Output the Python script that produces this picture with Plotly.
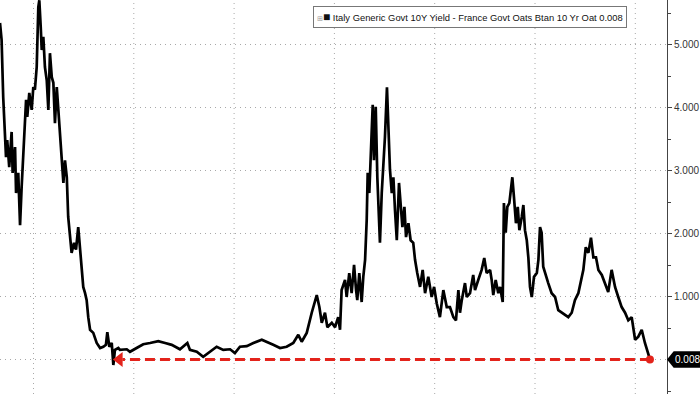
import plotly.graph_objects as go

# Decimal years and spread values (Italy 10Y - France 10Y)
years = [
    1993.33, 1993.41, 1993.49, 1993.58, 1993.63, 1993.69, 1993.79, 1993.91, 1993.96, 1994.08,
    1994.13, 1994.24, 1994.33, 1994.41, 1994.49, 1994.63, 1994.69, 1994.79, 1994.91, 1994.99,
    1995.07, 1995.16, 1995.24, 1995.29, 1995.36, 1995.41, 1995.49, 1995.57, 1995.66, 1995.74,
    1995.82, 1995.91, 1995.99, 1996.07, 1996.16, 1996.24, 1996.32, 1996.41, 1996.49, 1996.57,
    1996.66, 1996.73, 1996.82, 1996.90, 1997.02, 1997.12, 1997.23, 1997.32, 1997.40, 1997.48,
    1997.57, 1997.65, 1997.73, 1997.82, 1997.98, 1998.15, 1998.32, 1998.48, 1998.61, 1998.68,
    1998.78, 1998.90, 1998.98, 1999.06, 1999.23, 1999.31, 1999.65, 1999.81, 2000.14, 2000.47,
    2000.81, 2001.22, 2001.56, 2001.89, 2002.30, 2002.67, 2002.80, 2003.14, 2003.46, 2003.80,
    2004.13, 2004.46, 2004.80, 2005.04, 2005.29, 2005.63, 2005.96, 2006.38, 2006.63, 2006.95,
    2007.29, 2007.62, 2007.95, 2008.20, 2008.37, 2008.62, 2008.87, 2008.95, 2009.12, 2009.25,
    2009.37, 2009.53, 2009.65, 2009.87, 2010.03, 2010.19, 2010.28, 2010.36, 2010.53, 2010.61,
    2010.74, 2010.86, 2010.98, 2011.08, 2011.14, 2011.24, 2011.36, 2011.44, 2011.53, 2011.61,
    2011.66, 2011.74, 2011.81, 2011.91, 2011.97, 2012.06, 2012.14, 2012.21, 2012.27, 2012.36,
    2012.44, 2012.52, 2012.62, 2012.69, 2012.77, 2012.86, 2012.94, 2013.02, 2013.11, 2013.22,
    2013.31, 2013.39, 2013.49, 2013.57, 2013.69, 2013.80, 2013.93, 2014.02, 2014.13, 2014.27,
    2014.40, 2014.52, 2014.68, 2014.85, 2014.97, 2015.10, 2015.26, 2015.43, 2015.60, 2015.76,
    2015.93, 2016.06, 2016.18, 2016.26, 2016.35, 2016.51, 2016.60, 2016.76, 2016.92, 2017.01,
    2017.17, 2017.34, 2017.47, 2017.59, 2017.76, 2017.84, 2017.92, 2018.04, 2018.17, 2018.26,
    2018.39, 2018.45, 2018.54, 2018.62, 2018.72, 2018.79, 2018.87, 2018.95, 2019.05, 2019.14,
    2019.22, 2019.34, 2019.42, 2019.50, 2019.59, 2019.67, 2019.75, 2019.84, 2019.95, 2020.09,
    2020.17, 2020.25, 2020.33, 2020.41, 2020.55, 2020.66, 2020.83, 2021.00, 2021.16, 2021.33,
    2021.50, 2021.66, 2021.83, 2021.99, 2022.16, 2022.28, 2022.41, 2022.53, 2022.66, 2022.79,
    2022.91, 2023.04, 2023.16, 2023.33, 2023.49, 2023.65, 2023.82, 2023.99, 2024.15, 2024.32,
    2024.49, 2024.65, 2024.82, 2024.99, 2025.15, 2025.32, 2025.48, 2025.60, 2025.73,
]
spread = [
    5.35, 5.08, 4.17, 3.49, 3.22, 3.49, 3.06, 3.62, 2.97, 3.38,
    2.65, 2.97, 2.14, 2.75, 3.33, 4.13, 3.86, 4.24, 3.97, 4.33,
    4.29, 4.65, 5.60, 5.71, 5.29, 4.92, 5.13, 4.65, 4.44, 3.97,
    4.87, 4.49, 4.40, 3.76, 4.33, 3.97, 3.70, 3.22, 2.81, 3.17,
    2.90, 2.27, 2.02, 1.70, 1.86, 1.75, 2.11, 1.79, 1.48, 1.16,
    1.06, 0.95, 0.68, 0.48, 0.43, 0.27, 0.19, 0.21, 0.24, 0.44,
    0.21, 0.27, -0.08, 0.16, 0.19, 0.16, 0.17, 0.13, 0.19, 0.25,
    0.27, 0.30, 0.27, 0.24, 0.17, 0.27, 0.16, 0.13, 0.05, 0.13,
    0.21, 0.16, 0.17, 0.11, 0.21, 0.22, 0.27, 0.32, 0.29, 0.24,
    0.19, 0.21, 0.27, 0.40, 0.29, 0.43, 0.75, 0.84, 1.03, 0.84,
    0.59, 0.75, 0.52, 0.59, 0.52, 0.68, 0.48, 1.11, 1.27, 1.00,
    1.38, 1.06, 1.51, 1.11, 0.95, 1.38, 0.92, 1.32, 1.59, 2.22,
    2.97, 2.65, 3.13, 4.05, 3.17, 4.02, 2.90, 2.43, 1.86, 2.65,
    3.02, 3.54, 4.33, 3.70, 3.02, 2.65, 2.90, 2.38, 1.90, 2.81,
    2.49, 2.11, 2.43, 1.95, 2.17, 1.90, 1.86, 1.59, 1.38, 1.16,
    1.43, 1.06, 1.32, 1.00, 1.16, 0.90, 0.68, 1.11, 0.84, 0.84,
    0.68, 0.63, 1.11, 0.75, 0.95, 1.22, 1.00, 1.06, 1.35, 1.11,
    1.27, 1.43, 1.62, 1.38, 1.43, 1.27, 1.03, 1.27, 1.06, 1.16,
    0.92, 2.49, 2.02, 2.43, 2.49, 2.65, 2.90, 2.59, 2.17, 2.43,
    2.06, 2.27, 2.46, 2.06, 1.90, 1.62, 1.16, 1.00, 1.32, 1.38,
    1.59, 2.11, 2.02, 1.48, 1.32, 1.22, 1.06, 1.00, 0.79, 0.75,
    0.71, 0.68, 0.75, 0.95, 1.06, 1.22, 1.43, 1.79, 1.70, 1.94,
    1.63, 1.63, 1.43, 1.35, 1.22, 1.08, 1.43, 1.16, 1.00, 0.84,
    0.75, 0.63, 0.68, 0.32, 0.37, 0.48, 0.27, 0.16, 0.008,
]

y_tick_vals = [0, 1, 2, 3, 4, 5]
y_tick_text = ["", "1.000", "2.000", "3.000", "4.000", "5.000"]
grid_years = [1995, 2000, 2005, 2010, 2015, 2020, 2025]
arrow_left_year = 1998.98
last_label = "0.008"
legend_text = "Italy Generic Govt 10Y Yield - France Govt Oats Btan 10 Yr Oat 0.008"

RED = "#e3231b"
GRID = "#a8a8a8"
GRID_DASH = "1px,4px"
last_val = spread[-1]

fig = go.Figure()

# vertical dotted grid lines
for gy in grid_years:
    fig.add_shape(type="line", xref="x", yref="paper", x0=gy, x1=gy, y0=0, y1=1,
                  line=dict(color=GRID, width=1, dash=GRID_DASH), layer="below")

fig.add_trace(go.Scatter(x=years, y=spread, mode="lines",
                         line=dict(color="#000000", width=2.7), hoverinfo="skip",
                         showlegend=False))

# red dashed arrow
fig.add_trace(go.Scatter(x=[years[-1], arrow_left_year + 0.45], y=[last_val, last_val],
                         mode="lines", line=dict(color=RED, width=3, dash="10px,5px"),
                         showlegend=False, hoverinfo="skip"))
fig.add_trace(go.Scatter(x=[arrow_left_year + 0.30], y=[last_val], mode="markers",
                         marker=dict(symbol="triangle-left", size=13, color=RED),
                         showlegend=False, hoverinfo="skip"))
fig.add_trace(go.Scatter(x=[years[-1]], y=[last_val], mode="markers",
                         marker=dict(symbol="circle", size=8, color=RED),
                         showlegend=False, hoverinfo="skip"))

# last value tag on the axis
fig.add_shape(type="path", xref="paper", yref="y",
              path="M 1.0,%f L 1.010,%f L 1.06,%f L 1.06,%f L 1.010,%f Z" % (
                  last_val, last_val + 0.13, last_val + 0.13, last_val - 0.13, last_val - 0.13),
              fillcolor="#000000", line=dict(width=0), layer="above")
fig.add_annotation(x=1.031, y=last_val, xref="paper", yref="y", text=last_label,
                   showarrow=False, font=dict(color="white", size=10, family="Liberation Sans"),
                   xanchor="center", yanchor="middle")

# legend box
fig.add_annotation(x=0.705, y=0.9556, xref="paper", yref="paper",
                   text="<span style='color:#999;font-size:7px'>⊞</span>"
                        "<span style='font-size:12px'>■</span> " + legend_text,
                   showarrow=False, font=dict(color="#111", size=9.4,
                                              family="Liberation Sans Narrow, Liberation Sans"),
                   bgcolor="white", bordercolor="#777", borderwidth=1, borderpad=3,
                   xanchor="center", yanchor="middle")

fig.update_layout(
    width=700, height=394,
    margin=dict(l=0, r=33, t=0, b=0),
    paper_bgcolor="white", plot_bgcolor="white",
    showlegend=False,
    xaxis=dict(range=[1993.33, 2026.58], showgrid=False, showticklabels=False,
               zeroline=False, ticks="", showline=False, fixedrange=True),
    yaxis=dict(range=[-0.54, 5.714], side="right", tickvals=y_tick_vals,
               ticktext=y_tick_text, showgrid=True, gridcolor=GRID,
               griddash=GRID_DASH, gridwidth=1, zeroline=False, showline=True,
               linecolor="#444", linewidth=1, ticks="outside", ticklen=4,
               tickcolor="#444", tickfont=dict(size=10, color="#333",
                                               family="Liberation Sans"),
               minor=dict(dtick=0.5, ticks="outside", ticklen=3, tickcolor="#444",
                          showgrid=False),
               fixedrange=True),
)

fig.write_html("out.html", config={"displayModeBar": False},
               post_script="document.body.style.margin='0';document.body.style.overflow='hidden';")
